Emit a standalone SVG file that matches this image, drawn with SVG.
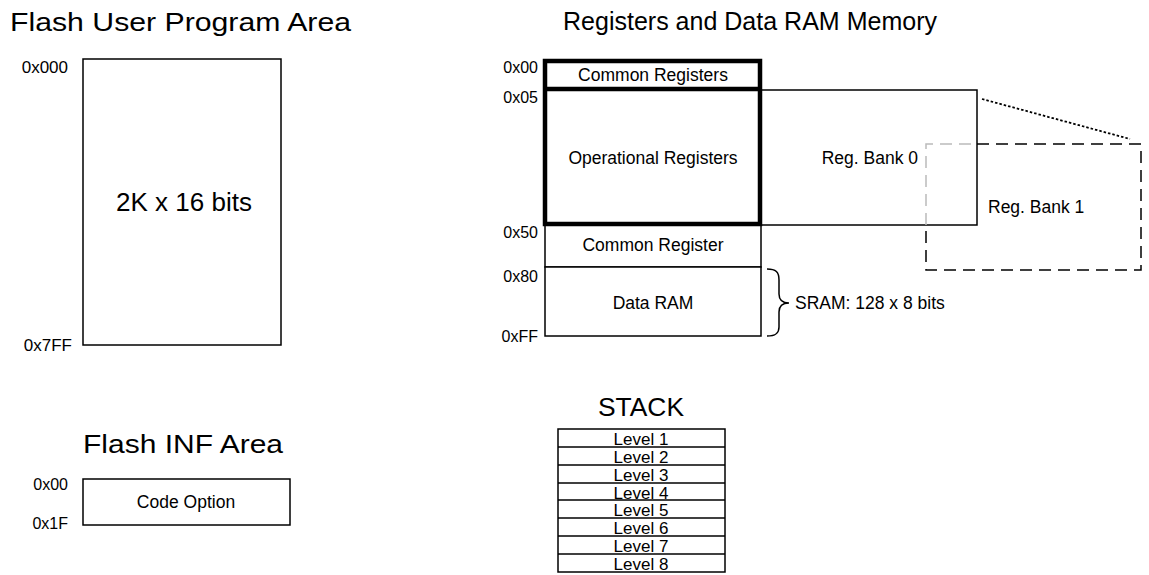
<svg xmlns="http://www.w3.org/2000/svg" width="1149" height="575" viewBox="0 0 1149 575">
<style>
text{font-family:"Liberation Sans",Arial,sans-serif;fill:#000}
.title{font-size:26px}
.lbl{font-size:17.5px}
.addr{font-size:16px}
.lvl{font-size:17px}
.mid{text-anchor:middle}
.end{text-anchor:end}
.box{fill:#fff;stroke:#000;stroke-width:1.5}
.thick{fill:none;stroke:#000;stroke-width:4.5}
</style>
<rect width="1149" height="575" fill="#fff"/>

<g id="flash-user">
<text class="title" x="10" y="31" textLength="341" lengthAdjust="spacingAndGlyphs">Flash User Program Area</text>
<rect class="box" x="83" y="59" width="198" height="286"/>
<text class="end" font-size="17" x="68" y="73">0x000</text>
<text class="end" font-size="17" x="72" y="351">0x7FF</text>
<text class="mid" x="184" y="211" font-size="26">2K x 16 bits</text>
</g>

<g id="flash-inf">
<text class="title" x="83" y="453" textLength="200" lengthAdjust="spacingAndGlyphs">Flash INF Area</text>
<rect class="box" x="83" y="479" width="207" height="46"/>
<text class="addr end" x="68" y="490">0x00</text>
<text class="addr end" x="68" y="529">0x1F</text>
<text class="lbl mid" x="186" y="508">Code Option</text>
</g>

<g id="reg-title">
<text class="title" x="563" y="30" textLength="374" lengthAdjust="spacingAndGlyphs">Registers and Data RAM Memory</text>
</g>

<g id="reg-bank0">
<rect class="box" x="760" y="90" width="217" height="135"/>
<text class="lbl end" x="918" y="164">Reg. Bank 0</text>
</g>

<g id="common-register">
<rect class="box" x="545" y="224" width="216" height="43"/>
<text class="lbl mid" x="653" y="251">Common Register</text>
</g>

<g id="data-ram">
<rect class="box" x="545" y="267" width="216" height="69"/>
<text class="lbl mid" x="653" y="309">Data RAM</text>
</g>

<g id="common-registers">
<rect fill="#fff" x="545" y="61" width="215" height="28"/>
<text class="lbl mid" x="653" y="81">Common Registers</text>
</g>

<g id="operational-registers">
<text class="lbl mid" x="653" y="164">Operational Registers</text>
<rect class="thick" x="545" y="61" width="215" height="163"/>
<line x1="545" y1="89" x2="760" y2="89" stroke="#000" stroke-width="4.5"/>
</g>

<g id="addresses">
<text class="addr end" x="538" y="73">0x00</text>
<text class="addr end" x="538" y="103">0x05</text>
<text class="addr end" x="538" y="238">0x50</text>
<text class="addr end" x="538" y="282">0x80</text>
<text class="addr end" x="538" y="342">0xFF</text>
</g>

<g id="reg-bank1">
<path d="M977,144 H1141 V270 H926 V225" fill="none" stroke="#000" stroke-width="1.5" stroke-dasharray="12 7"/>
<path d="M926,225 V144 H977" fill="none" stroke="#bbb" stroke-width="1.5" stroke-dasharray="12 7"/>
<text class="lbl" x="988" y="213">Reg. Bank 1</text>
</g>

<g id="sram">
<text class="lbl" x="795" y="309">SRAM: 128 x 8 bits</text>
</g>

<g id="connectors">
<line x1="982" y1="99" x2="1130" y2="139" stroke="#000" stroke-width="1.8" stroke-dasharray="2.5 2"/>
<path d="M767,269 C776,269 779,272 779,280 L779,294 C779,300 783,303 789,303 C783,303 779,306 779,312 L779,327 C779,333 776,336 767,336" fill="none" stroke="#000" stroke-width="1.5"/>
</g>

<g id="stack">
<text class="title mid" x="641" y="416" textLength="86" lengthAdjust="spacingAndGlyphs">STACK</text>
<rect class="box" x="558" y="429" width="167" height="143"/>
<g stroke="#000" stroke-width="1.5">
<line x1="558" y1="447" x2="725" y2="447"/>
<line x1="558" y1="465" x2="725" y2="465"/>
<line x1="558" y1="483" x2="725" y2="483"/>
<line x1="558" y1="500" x2="725" y2="500"/>
<line x1="558" y1="518" x2="725" y2="518"/>
<line x1="558" y1="536" x2="725" y2="536"/>
<line x1="558" y1="554" x2="725" y2="554"/>
</g>
<text class="lvl mid" x="641" y="445">Level 1</text>
<text class="lvl mid" x="641" y="463">Level 2</text>
<text class="lvl mid" x="641" y="481">Level 3</text>
<text class="lvl mid" x="641" y="499">Level 4</text>
<text class="lvl mid" x="641" y="516">Level 5</text>
<text class="lvl mid" x="641" y="534">Level 6</text>
<text class="lvl mid" x="641" y="552">Level 7</text>
<text class="lvl mid" x="641" y="570">Level 8</text>
</g>
</svg>
